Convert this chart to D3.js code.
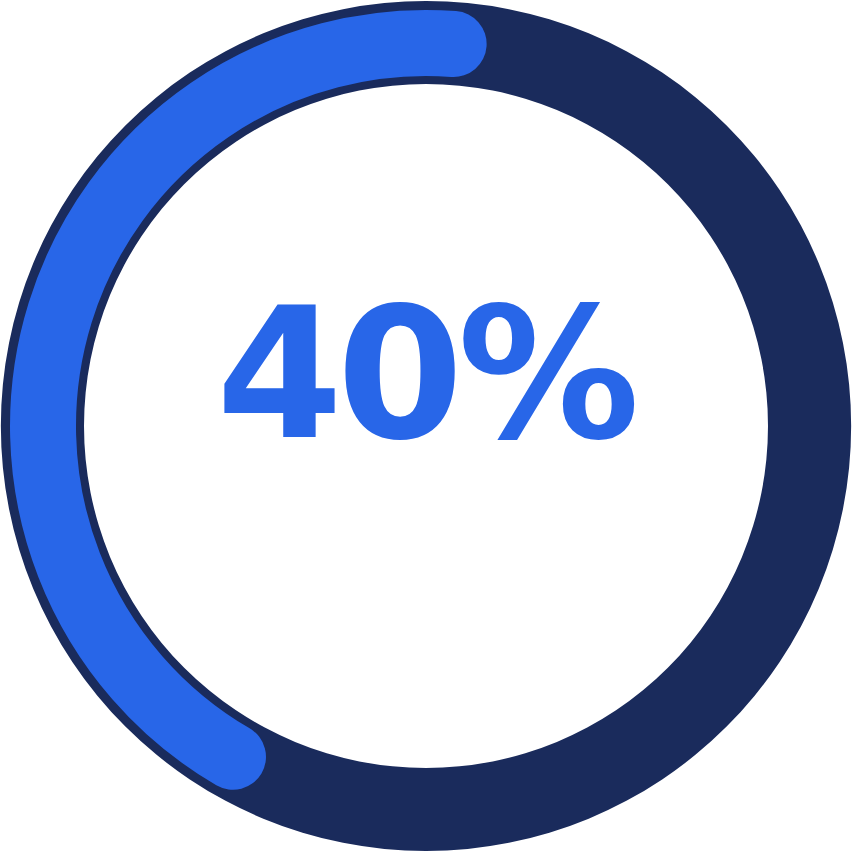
<!DOCTYPE html>
<html><head><meta charset="utf-8">
<script src="https://cdn.jsdelivr.net/npm/d3@7"></script>
<style>html,body{margin:0;padding:0;background:#fff;}svg{display:block;}</style>
</head><body>
<svg id="chart" width="852" height="852"></svg>
<script>
const values = [40];
const labels = ["40%"];
const W = 852, H = 852, cx = 426, cy = 426;
const svg = d3.select("#chart");
const g = svg.append("g").attr("transform", `translate(${cx},${cy})`);

const angle = d3.scaleLinear().domain([0, 100]).range([0, 2 * Math.PI]);

// background ring
g.append("path")
  .attr("d", d3.arc().innerRadius(342).outerRadius(425).startAngle(0).endAngle(2 * Math.PI)())
  .attr("fill", "#1a2b5c");

// progress arc (counter-clockwise from top, round caps)
const rMid = 383, bandW = 66;
const cap = (bandW / 2) / rMid;
const rot = -0.8 * Math.PI / 180;
const a1 = cap + rot;
const a0 = -angle(values[0]) - cap + rot;
const p = d3.path();
p.arc(0, 0, rMid, a1 - Math.PI / 2, a0 - Math.PI / 2, true);
g.append("path")
  .attr("d", p.toString())
  .attr("fill", "none")
  .attr("stroke", "#2866e8")
  .attr("stroke-width", bandW)
  .attr("stroke-linecap", "round");

g.append("text")
  .attr("x", -1)
  .attr("y", 11)
  .attr("text-anchor", "middle")
  .attr("font-family", "DejaVu Sans")
  .attr("font-weight", "bold")
  .attr("font-size", 182)
  .attr("letter-spacing", -6)
  .attr("fill", "#2866e8")
  .text(labels[0]);
</script>
</body></html>
